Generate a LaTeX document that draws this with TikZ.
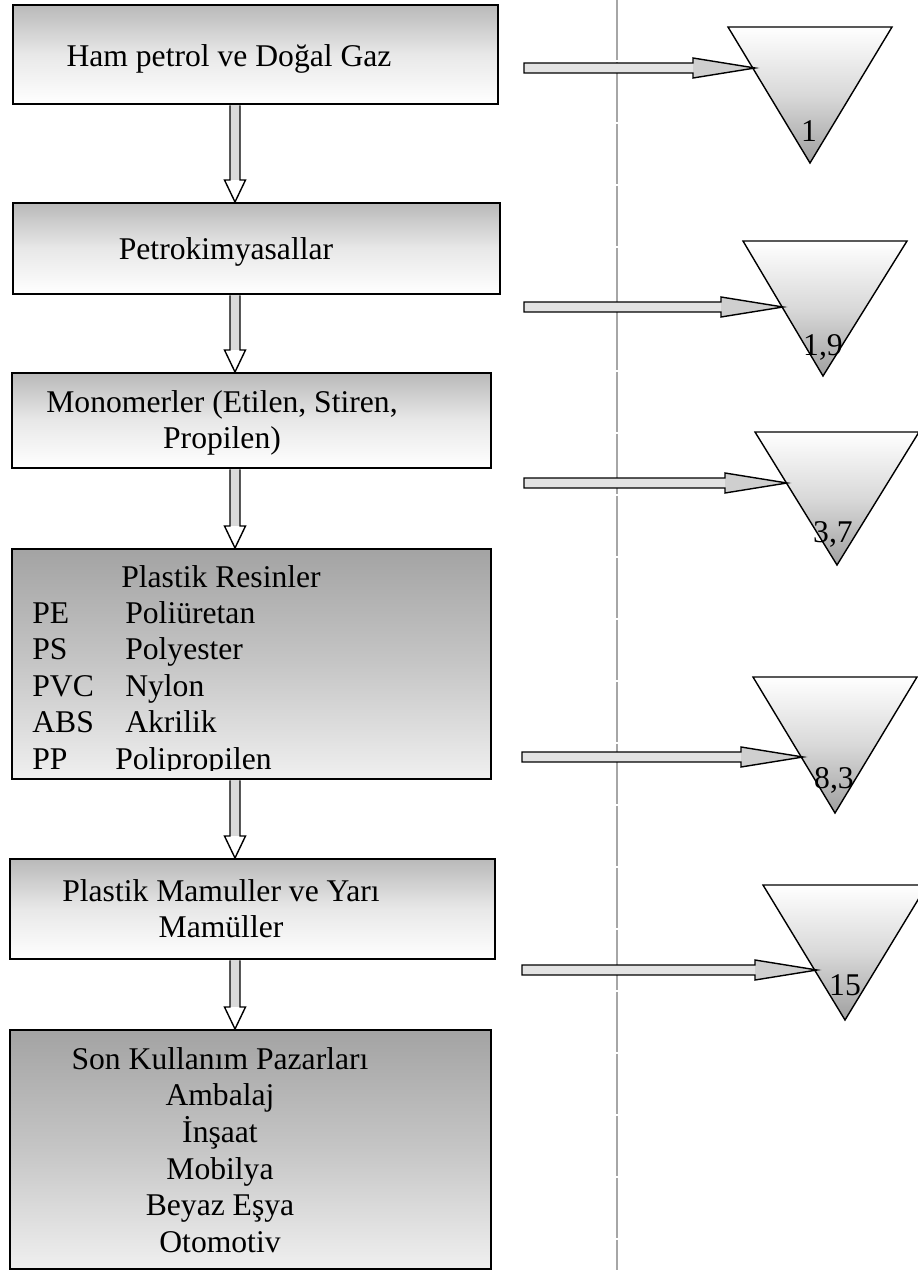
\documentclass[tikz,border=0pt]{standalone}
\usepackage{fontspec}
\setmainfont{Liberation Serif}
\usetikzlibrary{calc}

\tikzset{
  stage/.style={draw=black, line width=1pt, anchor=north west, inner sep=0pt,
    top color=gray!55, bottom color=white, middle color=gray!18},
  darkstage/.style={stage, top color=gray!72, bottom color=gray!12, middle color=gray!45},
  caption/.style={anchor=base, inner sep=0pt, font=\fontsize{18}{20.8}\selectfont},
  sink/.style={draw=black, line width=0.8pt, top color=white, bottom color=gray!75, middle color=gray!30},
  divider/.style={gray!70, line width=0.6pt, dash pattern=on 1.2cm off 0.04cm},
  flowline/.style={draw=black, line width=0.8pt},
}

% block arrow going down from box #1 to box #2
\newcommand{\downflow}[2]{%
  \coordinate (top) at (#1.south -| fx);
  \coordinate (tip) at (#2.north -| fx);
  \fill[white] ($(tip)+(-10.5,-22)$) -- (tip) -- ($(tip)+(10.5,-22)$) -- cycle;
  \fill[gray!30] ($(top)+(-5,0.6)$) rectangle ($(tip)+(5,-22)$);
  \draw[flowline] ($(top)+(-5,0.6)$) -- ($(tip)+(-5,-22)$) -- ($(tip)+(-10.5,-22)$) -- (tip)
    -- ($(tip)+(10.5,-22)$) -- ($(tip)+(5,-22)$) -- ($(top)+(5,0.6)$);
}
% block arrow going right from #1 to #2
\newcommand{\sideflow}[2]{%
  \fill[gray!22] ($(#1)+(0,-5)$) rectangle ($(#2)+(-62,5)$);
  \fill[gray!38] ($(#2)+(-62,-10)$) -- (#2) -- ($(#2)+(-62,10)$) -- cycle;
  \draw[flowline] (#1) ++(0,-5) -- ($(#2)+(-62,-5)$) -- ($(#2)+(-62,-10)$) -- (#2)
    -- ($(#2)+(-62,10)$) -- ($(#2)+(-62,5)$) -- ($(#1)+(0,5)$) -- cycle;
}
\newcommand{\listcol}[1]{\begin{tabular}[t]{@{}c@{}}#1\end{tabular}}

\begin{document}
\begin{tikzpicture}[x=0.02cm,y=-0.02cm]
\useasboundingbox (0,0) rectangle (917,1270);
\coordinate (fx) at (235,0);

\draw[divider] (617,0) -- (617,1270);

% stages
\node[stage, minimum width=9.70cm, minimum height=1.98cm] (b1) at (12,4) {};
\node[stage, minimum width=9.74cm, minimum height=1.82cm] (b2) at (12,202) {};
\node[stage, minimum width=9.58cm, minimum height=1.90cm] (b3) at (11,372) {};
\node[darkstage, minimum width=9.58cm, minimum height=4.60cm] (b4) at (11,548) {};
\node[stage, minimum width=9.70cm, minimum height=2.00cm] (b5) at (9,858) {};
\node[darkstage, minimum width=9.62cm, minimum height=4.78cm] (b6) at (9,1029) {};

\node[caption] (t1) at (229,67) {Ham petrol ve Doğal Gaz};
\node[caption] (t2) at (226,260) {Petrokimyasallar};
\node[caption] (t3) at (222,412) {\listcol{Monomerler (Etilen, Stiren,\\ Propilen)}};
\node[caption] (t4) at (221,587) {Plastik Resinler};
\begin{scope}
\clip (b4.north west) rectangle ($(b4.south east)+(0,-9)$);
\node[caption, anchor=base west] (t4list) at (32,623) {\begin{tabular}[t]{@{}p{1.86cm}@{}l@{}}
PE & Poliüretan\\ PS & Polyester\\ PVC & Nylon\\ ABS & Akrilik\\ PP & \hspace*{-0.2cm}Polipropilen
\end{tabular}};
\end{scope}
\node[caption] (t5) at (221,901) {\listcol{Plastik Mamuller ve Yarı\\ Mamüller}};
\node[caption] (t6) at (220,1069) {\listcol{Son Kullanım Pazarları\\ Ambalaj\\ İnşaat\\ Mobilya\\ Beyaz Eşya\\ Otomotiv}};

\downflow{b1}{b2}
\downflow{b2}{b3}
\downflow{b3}{b4}
\downflow{b4}{b5}
\downflow{b5}{b6}

% sinks
\shade[sink] (728,27) -- (892,27) -- (810,163) -- cycle;
\shade[sink] (743,241) -- (907,241) -- (823,376) -- cycle;
\shade[sink] (755,432) -- (919,432) -- (837,565) -- cycle;
\shade[sink] (753,677) -- (917,677) -- (835,813) -- cycle;
\shade[sink] (763,885) -- (927,885) -- (845,1020) -- cycle;
\node[caption] (n1) at (809,142) {1};
\node[caption] (n2) at (823,355) {1,9};
\node[caption] (n3) at (833,542) {3,7};
\node[caption] (n4) at (834,788) {8,3};
\node[caption] (n5) at (845,995) {15};

\coordinate (s1) at (524,68);  \coordinate (k1) at (755,68);
\coordinate (s2) at (524,307); \coordinate (k2) at (783,307);
\coordinate (s3) at (524,483); \coordinate (k3) at (787,483);
\coordinate (s4) at (522,757); \coordinate (k4) at (803,757);
\coordinate (s5) at (522,970); \coordinate (k5) at (817,970);
\sideflow{s1}{k1}
\sideflow{s2}{k2}
\sideflow{s3}{k3}
\sideflow{s4}{k4}
\sideflow{s5}{k5}
\end{tikzpicture}
\end{document}
